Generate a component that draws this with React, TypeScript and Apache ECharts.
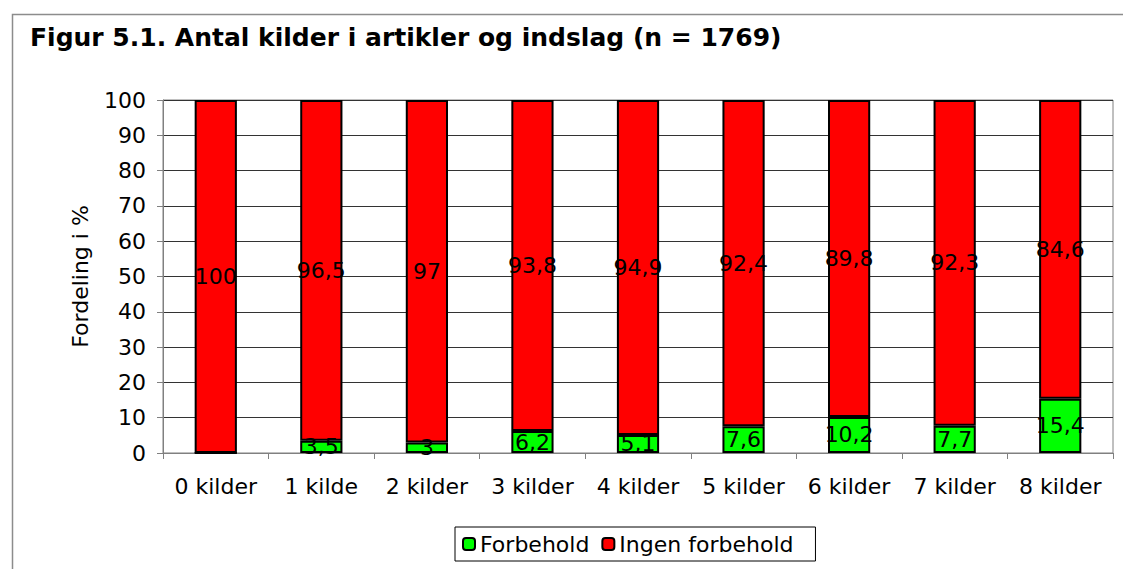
import React, { useEffect, useRef } from "react";
import * as echarts from "echarts";

const categories = ["0 kilder", "1 kilde", "2 kilder", "3 kilder", "4 kilder", "5 kilder", "6 kilder", "7 kilder", "8 kilder"];
const forbehold = [0, 3.5, 3, 6.2, 5.1, 7.6, 10.2, 7.7, 15.4];
const ingenForbehold = [100, 96.5, 97, 93.8, 94.9, 92.4, 89.8, 92.3, 84.6];

const FONT = "DejaVu Sans";
const FS = 22;

const fmt = (p: any) => (p.value === 0 ? "" : String(p.value).replace(".", ","));

export default function App() {
  const ref = useRef<HTMLDivElement>(null);
  useEffect(() => {
    if (!ref.current) return;
    const chart = echarts.init(ref.current, null, { renderer: "svg" });
    chart.setOption({
      animation: false,
      backgroundColor: "#fff",
      textStyle: { fontFamily: FONT },
      title: {
        text: "Figur 5.1. Antal kilder i artikler og indslag (n = 1769)",
        left: 30,
        top: 25,
        padding: 0,
        textStyle: { fontFamily: FONT, fontSize: 25, fontWeight: "bold", color: "#000" },
      },
      graphic: [
        {
          type: "rect",
          left: 10,
          top: 12,
          shape: { width: 1200, height: 700 },
          style: { fill: "none", stroke: "#8c8c8c", lineWidth: 1.5 },
          silent: true,
          z: -1,
        },
      ],
      legend: {
        data: ["Forbehold", "Ingen forbehold"],
        left: 455,
        top: 527,
        itemWidth: 12,
        itemHeight: 12,
        itemGap: 12,
        padding: [6, 22, 6, 7],
        borderColor: "#000",
        borderWidth: 1,
        textStyle: { fontFamily: FONT, fontSize: FS, color: "#000", padding: [0, 0, 0, 0] },
      },
      grid: { left: 163, right: 10, top: 100, bottom: 116, show: true, borderColor: "#808080", borderWidth: 1 },
      xAxis: {
        type: "category",
        data: categories,
        axisLine: { lineStyle: { color: "#808080", width: 1 } },
        axisTick: { show: true, length: 6, lineStyle: { color: "#808080" } },
        axisLabel: { fontFamily: FONT, fontSize: FS, color: "#000", margin: 22, interval: 0 },
      },
      yAxis: {
        type: "value",
        min: 0,
        max: 100,
        interval: 10,
        name: "Fordeling i %",
        nameLocation: "middle",
        nameRotate: 90,
        nameGap: 72,
        nameTextStyle: { fontFamily: FONT, fontSize: FS, color: "#000" },
        axisLine: { show: true, lineStyle: { color: "#808080", width: 1 } },
        axisTick: { show: true, length: 6, lineStyle: { color: "#808080" } },
        axisLabel: { fontFamily: FONT, fontSize: FS, color: "#000", margin: 17 },
        splitLine: { lineStyle: { color: "#333", width: 1 } },
      },
      series: [
        {
          name: "Forbehold",
          type: "bar",
          stack: "total",
          barWidth: "40%",
          data: forbehold,
          itemStyle: { color: "#00ff00", borderColor: "#000", borderWidth: 2 },
          label: { show: true, position: "inside", formatter: fmt, fontFamily: FONT, fontSize: FS, color: "#000" },
        },
        {
          name: "Ingen forbehold",
          type: "bar",
          stack: "total",
          barWidth: "40%",
          data: ingenForbehold,
          itemStyle: { color: "#ff0000", borderColor: "#000", borderWidth: 2 },
          label: { show: true, position: "inside", formatter: fmt, fontFamily: FONT, fontSize: FS, color: "#000" },
        },
      ],
    });
    return () => chart.dispose();
  }, []);
  return <div ref={ref} style={{ position: "fixed", left: 0, top: 0, width: 1123, height: 569 }} />;
}
